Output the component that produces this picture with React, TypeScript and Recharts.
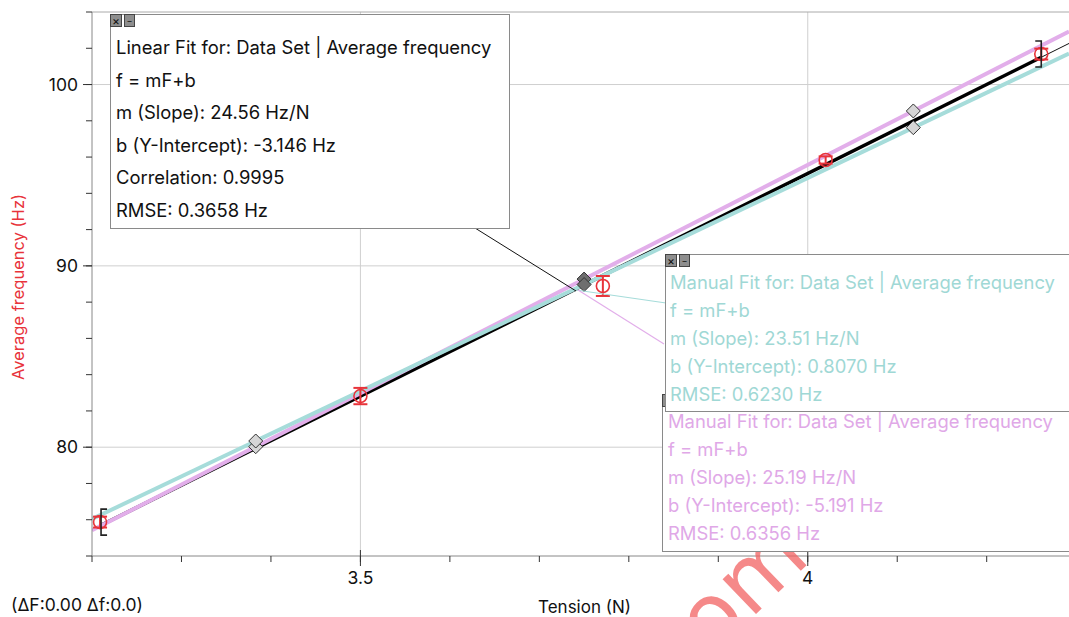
import React from 'react';
import { ComposedChart, Line, Scatter, XAxis, YAxis, ReferenceLine, ErrorBar } from 'recharts';

// ---- data ----
const tension = [3.209, 3.5, 3.771, 4.02, 4.261];
const frequency = [75.87, 82.82, 88.89, 95.84, 101.68];
const frequencyError = [0.3, 0.45, 0.55, 0.2, 0.3];

// fits: [linear, manual (cyan), manual (pink)]
const fitSlopes = [24.56, 23.51, 25.19];
const fitIntercepts = [-3.146, 0.807, -5.191];

const handleTension = [3.383, 3.75, 4.118];

const xDomain = [3.2, 4.292];
const yDomain = [74, 104];
const xTicks = [3.2, 3.3, 3.4, 3.5, 3.6, 3.7, 3.8, 3.9, 4.0, 4.1, 4.2];
const xTickLabels = ['3.5', '4'];
const yTicks = [74, 76, 78, 80, 82, 84, 86, 88, 90, 92, 94, 96, 98, 100, 102, 104];
const yTickLabels = ['80', '90', '100'];
const gridX = [3.5, 4];
const gridY = [80, 90, 100];

const linearFitText = [
  'Linear Fit for: Data Set | Average frequency',
  'f = mF+b',
  'm (Slope): 24.56 Hz/N',
  'b (Y-Intercept): -3.146 Hz',
  'Correlation: 0.9995',
  'RMSE: 0.3658 Hz',
];
const manualFit1Text = [
  'Manual Fit for: Data Set | Average frequency',
  'f = mF+b',
  'm (Slope): 23.51 Hz/N',
  'b (Y-Intercept): 0.8070 Hz',
  'RMSE: 0.6230 Hz',
];
const manualFit2Text = [
  'Manual Fit for: Data Set | Average frequency',
  'f = mF+b',
  'm (Slope): 25.19 Hz/N',
  'b (Y-Intercept): -5.191 Hz',
  'RMSE: 0.6356 Hz',
];

// ---- styles ----
const RED = '#e8333a';
const CYAN = '#a6dcda';
const PINK = '#e2aeea';
const CYAN_TEXT = '#9fd8d5';
const PINK_TEXT = '#e0a8e7';
const FONT = 'Inter, "Liberation Sans", Arial, sans-serif';

const fitLine = (i: number, x0: number, x1: number) => [
  { x: x0, y: fitSlopes[i] * x0 + fitIntercepts[i] },
  { x: x1, y: fitSlopes[i] * x1 + fitIntercepts[i] },
];

const points = tension.map((t, i) => ({ x: t, y: frequency[i], err: frequencyError[i] }));
const cyanHandles = handleTension.map((t, i) => ({ x: t, y: fitSlopes[1] * t + fitIntercepts[1], dark: i === 1 }));
const pinkHandles = handleTension.map((t, i) => ({ x: t, y: fitSlopes[2] * t + fitIntercepts[2], dark: i === 1 }));
const brackets = [
  { x: tension[0], y: frequency[0], side: 'left' },
  { x: tension[tension.length - 1], y: frequency[frequency.length - 1], side: 'right' },
];

const fmtX = (v: number) => {
  const s = String(Math.round(v * 10) / 10);
  return xTickLabels.includes(s) ? s : '';
};
const fmtY = (v: number) => (yTickLabels.includes(String(v)) ? String(v) : '');

const XTick = (p: any) => {
  const s = fmtX(p.payload.value);
  const axisY = p.y - 16;
  return (
    <g>
      {s && <line x1={p.x} x2={p.x} y1={axisY - 6} y2={axisY + 10} stroke="#333" strokeWidth={1} />}
      <text x={p.x} y={p.y} dy="0.71em" textAnchor="middle" fontSize={17.5} fill="#111">
        {s}
      </text>
    </g>
  );
};

const YTick = (p: any) => {
  const s = fmtY(p.payload.value);
  const axisX = p.x + 14;
  return (
    <g>
      {s && <line x1={axisX - 9} x2={axisX} y1={p.y} y2={p.y} stroke="#333" strokeWidth={1} />}
      <text x={p.x} y={p.y} dy="0.355em" textAnchor="end" fontSize={17.5} fill="#111">
        {s}
      </text>
    </g>
  );
};

const Diamond = (p: any) => {
  const s = 7;
  const { cx, cy } = p;
  const dark = p.payload && p.payload.dark;
  return (
    <polygon
      points={`${cx},${cy - s} ${cx + s},${cy} ${cx},${cy + s} ${cx - s},${cy}`}
      fill={dark ? '#6e6e6e' : '#d6d6d6'}
      stroke="#333"
      strokeWidth={1}
    />
  );
};

const Circle = (p: any) => (
  <circle cx={p.cx} cy={p.cy} r={6.5} fill="none" stroke={RED} strokeWidth={1.6} />
);

const Bracket = (p: any) => {
  const { cx, cy } = p;
  const h = 13;
  const left = p.payload && p.payload.side === 'left';
  const vx = left ? cx + 1 : cx;
  const cap = left ? 6 : -6;
  return (
    <path
      d={`M${vx + cap},${cy - h} L${vx},${cy - h} L${vx},${cy + h} L${vx + cap},${cy + h}`}
      fill="none"
      stroke="#222"
      strokeWidth={1.6}
    />
  );
};

const Buttons = () => (
  <div style={{ position: 'absolute', left: -1, top: -1, display: 'flex', gap: 2 }}>
    <div style={{ width: 12, height: 13, background: '#8e8e8e', border: '1px solid #444', boxSizing: 'border-box', fontSize: 12, lineHeight: '11px', textAlign: 'center', color: '#111', fontFamily: FONT }}>×</div>
    <div style={{ width: 11, height: 13, background: '#8e8e8e', border: '1px solid #444', boxSizing: 'border-box', fontSize: 9, lineHeight: '6px', textAlign: 'center', color: '#111', fontFamily: FONT }}>_</div>
  </div>
);

const FitBox = ({ left, top, width, height, lines, color, firstY, step, textLeft }: any) => (
  <div
    style={{
      position: 'absolute',
      left,
      top,
      width,
      height,
      background: '#fff',
      border: '1px solid #8a8a8a',
      boxSizing: 'border-box',
    }}
  >
    <Buttons />
    {lines.map((t: string, i: number) => (
      <div
        key={i}
        style={{
          position: 'absolute',
          left: textLeft - left - 1,
          top: firstY - top - 1 + i * step - 12,
          height: 24,
          lineHeight: '24px',
          color,
          fontSize: 18.4,
          whiteSpace: 'nowrap',
          fontFamily: FONT,
        }}
      >
        {t}
      </div>
    ))}
  </div>
);

export default function App() {
  return (
    <div
      style={{
        position: 'absolute',
        left: 0,
        top: 0,
        width: 1069,
        height: 617,
        overflow: 'hidden',
        background: '#fff',
        fontFamily: FONT,
      }}
    >
      <ComposedChart width={1069} height={617} margin={{ top: 12, right: 0, left: 0, bottom: 0 }}>
        <XAxis
          type="number"
          dataKey="x"
          domain={xDomain}
          ticks={xTicks}
          interval={0}
          allowDataOverflow
          height={61}
          stroke="#888"
          tickLine={{ stroke: '#333' }}
          tickSize={6}
          tickMargin={10}
          tick={<XTick />}
          label={{ value: 'Tension (N)', position: 'center', dx: 4, dy: 20, fill: '#111', fontSize: 17 }}
        />
        <YAxis
          type="number"
          domain={yDomain}
          ticks={yTicks}
          interval={0}
          allowDataOverflow
          width={92}
          stroke="#888"
          tickLine={{ stroke: '#333' }}
          tickSize={6}
          tickMargin={8}
          tick={<YTick />}
          label={{ value: 'Average frequency (Hz)', angle: -90, position: 'center', dx: -28, dy: 3, fill: RED, fontSize: 16.5 }}
        />
        {gridX.map((g) => (
          <ReferenceLine key={'gx' + g} x={g} stroke="#cfcfcf" strokeWidth={1} />
        ))}
        {gridY.map((g) => (
          <ReferenceLine key={'gy' + g} y={g} stroke="#cfcfcf" strokeWidth={1} />
        ))}
        <ReferenceLine y={yDomain[1]} stroke="#aaa" strokeWidth={1} />

        <Line data={fitLine(0, xDomain[0], xDomain[1])} dataKey="y" stroke="#111" strokeWidth={1} dot={false} activeDot={false} isAnimationActive={false} />
        <Line data={fitLine(0, tension[0], tension[tension.length - 1])} dataKey="y" stroke="#000" strokeWidth={3.5} dot={false} activeDot={false} isAnimationActive={false} />
        <Line data={fitLine(2, xDomain[0], xDomain[1])} dataKey="y" stroke={PINK} strokeWidth={4} dot={false} activeDot={false} isAnimationActive={false} />
        <Line data={fitLine(1, xDomain[0], xDomain[1])} dataKey="y" stroke={CYAN} strokeWidth={4} dot={false} activeDot={false} isAnimationActive={false} />

        <Scatter data={points} dataKey="y" shape={Circle} isAnimationActive={false}>
          <ErrorBar dataKey="err" direction="y" width={7} stroke={RED} strokeWidth={2} />
        </Scatter>
        <Scatter data={brackets} dataKey="y" shape={Bracket} isAnimationActive={false} />
        <Scatter data={pinkHandles} dataKey="y" shape={Diamond} isAnimationActive={false} />
        <Scatter data={cyanHandles} dataKey="y" shape={Diamond} isAnimationActive={false} />
      </ComposedChart>

      <svg width={1069} height={617} style={{ position: 'absolute', left: 0, top: 0, pointerEvents: 'none' }}>
        <text
          x={812}
          y={560}
          transform="rotate(-44 812 560)"
          textAnchor="end"
          fontSize={88}
          fill="#f26262"
          fillOpacity={0.75}
          fontFamily='"DejaVu Sans", sans-serif'
        >
          .com
        </text>
        <line x1={475} y1={228} x2={576} y2={291} stroke="#111" strokeWidth={1} />
        <line x1={576} y1={290} x2={666} y2={303} stroke={CYAN} strokeWidth={1.2} />
        <line x1={578} y1={290} x2={664} y2={344} stroke={PINK} strokeWidth={1.2} />
      </svg>

      <FitBox left={662} top={394} width={430} height={158} lines={manualFit2Text} color={PINK_TEXT} firstY={421} step={28} textLeft={668} />
      <FitBox left={665} top={254} width={430} height={158} lines={manualFit1Text} color={CYAN_TEXT} firstY={282} step={28} textLeft={670} />
      <FitBox left={110} top={14} width={400} height={215} lines={linearFitText} color="#111" firstY={47} step={32.6} textLeft={116} />

      <div style={{ position: 'absolute', left: 11, top: 595, fontSize: 17.5, lineHeight: '20px', color: '#111', whiteSpace: 'nowrap' }}>
        (ΔF:0.00 Δf:0.0)
      </div>
    </div>
  );
}
